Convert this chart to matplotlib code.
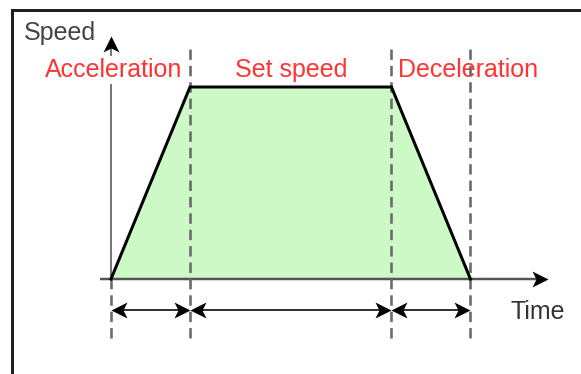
import matplotlib
matplotlib.use("Agg")
import matplotlib.pyplot as plt
from matplotlib.lines import Line2D
from matplotlib.path import Path
from matplotlib.markers import MarkerStyle
from matplotlib.transforms import Affine2D

plt.rcParams['font.family'] = ['Liberation Sans', 'DejaVu Sans']
plt.rcParams['lines.scale_dashes'] = False

# ---- data ----
phase_times = [0.0, 1.0, 3.55, 4.55]     # start accel, end accel, start decel, end decel
phase_speeds = [0.0, 1.0, 1.0, 0.0]
phase_labels = ["Acceleration", "Set speed", "Deceleration"]
axis_labels = ["Speed", "Time"]

W, H, DPI = 581, 374, 100
fig = plt.figure(figsize=(W / DPI, H / DPI), dpi=DPI)
ax = fig.add_axes([0, 0, 1, 1])
ax.set_axis_off()

# pixel-based layout helpers (layout only)
X0, XS = 111, 79.0      # px of t=0, px per time unit
Y0, YS = 279, 192.0     # px of v=0, px per speed unit
ax.set_xlim(-X0 / XS, (W - X0) / XS)
ax.set_ylim((Y0 - H) / YS, Y0 / YS)

def vy(py):
    return (Y0 - py) / YS

def tx(px):
    return (px - X0) / XS

PX = 0.72  # points per pixel

# stealth arrowhead marker pointing right, tip at origin
head = Path([(0, 0), (-1.0, 0.5), (-0.75, 0), (-1.0, -0.5), (0, 0)],
            [Path.MOVETO, Path.LINETO, Path.LINETO, Path.LINETO, Path.CLOSEPOLY])

def head_marker(angle):
    return MarkerStyle(head, transform=Affine2D().rotate_deg(angle))

HEAD_MS = 2 * 16 * PX   # marker size (head length ~16 px)

# outer frame (cropped at right/bottom)
fx = 11.5 / W
fy = 1 - 9.5 / H
fig.add_artist(Line2D([fx, fx, 1.01], [-0.01, fy, fy], transform=fig.transFigure,
                      color='#1e1e1e', lw=3 * PX, solid_joinstyle='miter'))

# fill under the speed profile
ax.fill_between(phase_times, phase_speeds, 0, color='#ccf9c6', lw=0, zorder=1)

# x axis
x_tip = tx(548)
ax.plot([tx(100), x_tip - 0.1], [0, 0], color='#555555', lw=2.5 * PX, zorder=2,
        solid_capstyle='butt')
ax.plot([x_tip], [0], linestyle='none', marker=head_marker(0), ms=HEAD_MS,
        color='black', mew=0, zorder=2)
# y axis
y_tip = vy(36)
ax.plot([0, 0], [0, y_tip - 0.05], color='#777777', lw=2 * PX, zorder=2,
        solid_capstyle='butt')
ax.plot([0], [y_tip], linestyle='none', marker=head_marker(90), ms=HEAD_MS,
        color='black', mew=0, zorder=2)

# speed profile outline
ax.plot(phase_times, phase_speeds, color='black', lw=3 * PX, zorder=5,
        solid_joinstyle='miter')

# dashed phase boundaries
dash = (0, (7.5, 4.3))
for i, t in enumerate(phase_times):
    top = 0 if i == 0 else vy(48)
    ax.plot([t, t], [vy(338), top], color='#6a6a6a', lw=2.6 * PX, linestyle=dash,
            zorder=4)

# duration arrows
arrow_y = vy(310)
for a, b in zip(phase_times[:-1], phase_times[1:]):
    ax.plot([a + 0.05, b - 0.05], [arrow_y, arrow_y], color='#333333', lw=2 * PX,
            zorder=5, solid_capstyle='butt')
    ax.plot([b], [arrow_y], linestyle='none', marker=head_marker(0), ms=HEAD_MS,
            color='black', mew=0, zorder=6)
    ax.plot([a], [arrow_y], linestyle='none', marker=head_marker(180), ms=HEAD_MS,
            color='black', mew=0, zorder=6)

# phase labels
fs = 25 * PX
red = '#ff3333'
label_base = vy(77)
label_x = [tx(114), (phase_times[1] + phase_times[2]) / 2, tx(468)]
for lbl, x in zip(phase_labels, label_x):
    kw = {}
    if lbl == phase_labels[0]:
        kw['bbox'] = dict(facecolor='white', edgecolor='none', pad=1.5)
    ax.text(x, label_base, lbl, color=red, fontsize=fs, ha='center', va='baseline',
            zorder=3, **kw)

# axis labels
ax.text(tx(60), vy(40), axis_labels[0], color='#444444', fontsize=fs, ha='center',
        va='baseline', zorder=6)
ax.text(tx(537.5), vy(319), axis_labels[1], color='#333333', fontsize=fs, ha='center',
        va='baseline', zorder=6)

fig.savefig('out.png', dpi=DPI)
